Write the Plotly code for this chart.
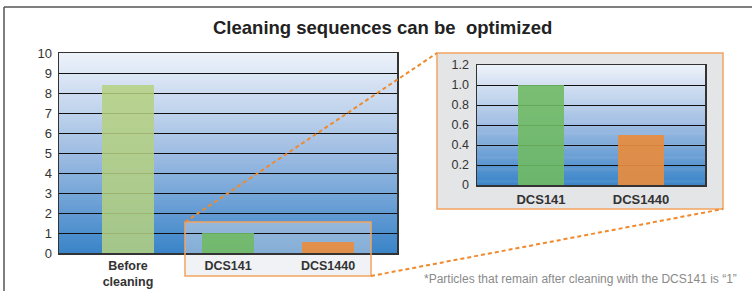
import plotly.graph_objects as go

W, H = 752, 291

# ---------------- data ----------------
main_categories = ["Before<br>cleaning", "DCS141", "DCS1440"]
main_values = [8.4, 1.0, 0.55]
main_colors = ["rgba(180,208,128,0.86)", "rgba(112,186,100,0.90)", "rgba(232,140,62,0.92)"]
main_yticks = list(range(0, 11))

inset_categories = ["DCS141", "DCS1440"]
inset_values = [1.0, 0.5]
inset_colors = ["rgba(112,186,100,0.90)", "rgba(232,140,62,0.92)"]
inset_yticks = [0, 0.2, 0.4, 0.6, 0.8, 1.0, 1.2]
inset_yticklabels = ["0", "0.2", "0.4", "0.6", "0.8", "1.0", "1.2"]

title_text = "Cleaning sequences can be  optimized"
footnote_text = "*Particles that remain after cleaning with the DCS141 is \u201c1\u201d"

FONT = "Liberation Sans, Arial, Helvetica, sans-serif"


def X(px):
    return px / W


def Y(py):
    return 1 - py / H


def hex2rgb(h):
    h = h.lstrip("#")
    return tuple(int(h[i:i + 2], 16) for i in (0, 2, 4))


def interp(stops, t):
    for (t0, c0), (t1, c1) in zip(stops[:-1], stops[1:]):
        if t0 <= t <= t1:
            f = (t - t0) / (t1 - t0) if t1 > t0 else 0
            a, b = hex2rgb(c0), hex2rgb(c1)
            return "rgb(%d,%d,%d)" % tuple(round(a[k] + (b[k] - a[k]) * f) for k in range(3))
    return stops[-1][1]


def gradient_bands(ax, stops, n=110):
    out = []
    for i in range(n):
        t = (i + 0.5) / n
        out.append(dict(type="rect", xref=ax[0] + " domain", yref=ax[1] + " domain",
                        x0=0, x1=1, y0=i / n, y1=min((i + 1) / n + 0.004, 1.0),
                        fillcolor=interp(stops, t), line=dict(width=0), layer="below"))
    return out


bg_stops = [(0.0, "#3a84c8"), (0.5, "#9fbde3"), (1.0, "#edf2fa")]

# ---------------- geometry (pixels) ----------------
main_l, main_r, main_t, main_b = 59, 397, 53, 253
ins_l, ins_r, ins_t, ins_b = 477, 705, 65, 185
box = dict(l=437, r=723, t=53, b=209)          # inset frame
zoom = dict(l=185, r=371, t=222, b=276)        # highlight rectangle in main chart

fig = go.Figure()

fig.add_trace(go.Bar(
    x=list(range(len(main_values))), y=main_values, width=0.52,
    marker=dict(color=main_colors, line=dict(width=0)),
    xaxis="x", yaxis="y", hoverinfo="skip", showlegend=False))

fig.add_trace(go.Bar(
    x=list(range(len(inset_values))), y=inset_values, width=0.46,
    marker=dict(color=inset_colors, line=dict(width=0)),
    xaxis="x2", yaxis="y2", hoverinfo="skip", showlegend=False))

shapes = []
# outer frame lines
shapes.append(dict(type="line", xref="paper", yref="paper", x0=X(4), x1=X(752), y0=Y(7), y1=Y(7),
                   line=dict(color="#555555", width=1.5), layer="above"))
shapes.append(dict(type="line", xref="paper", yref="paper", x0=X(4), x1=X(4), y0=Y(7), y1=Y(291),
                   line=dict(color="#555555", width=1.5), layer="above"))
# inset frame (below)
shapes.append(dict(type="rect", xref="paper", yref="paper", x0=X(box["l"]), x1=X(box["r"]),
                   y0=Y(box["b"]), y1=Y(box["t"]), fillcolor="#e4e5e7",
                   line=dict(color="#f2a462", width=1.5), layer="below"))
# gradient backgrounds
shapes += gradient_bands(("x", "y"), bg_stops)
shapes += gradient_bands(("x2", "y2"), bg_stops)
# highlight rectangle tint (domain of main axes)
mw, mh = main_r - main_l, main_b - main_t
shapes.append(dict(type="rect", xref="x domain", yref="y domain",
                   x0=(zoom["l"] - main_l) / mw, x1=(zoom["r"] - main_l) / mw,
                   y0=(main_b - zoom["b"]) / mh, y1=(main_b - zoom["t"]) / mh,
                   fillcolor="rgba(224,227,232,0.45)", line=dict(width=0), layer="below"))
# highlight rectangle border
shapes.append(dict(type="rect", xref="paper", yref="paper", x0=X(zoom["l"]), x1=X(zoom["r"]),
                   y0=Y(zoom["b"]), y1=Y(zoom["t"]), fillcolor="rgba(0,0,0,0)",
                   line=dict(color="#f2a462", width=1.5), layer="above"))
# dotted connector lines
dot = dict(color="#f08a2c", width=2, dash="4px,3px")
shapes.append(dict(type="line", xref="paper", yref="paper", x0=X(zoom["l"]), y0=Y(zoom["t"]),
                   x1=X(box["l"]), y1=Y(box["t"]), line=dot, layer="above"))
shapes.append(dict(type="line", xref="paper", yref="paper", x0=X(zoom["r"]), y0=Y(zoom["b"]),
                   x1=X(box["r"]), y1=Y(box["b"]), line=dot, layer="above"))

axis_common = dict(showline=True, mirror=True, linecolor="#333333", linewidth=1.5,
                   zeroline=False, ticks="", fixedrange=True, automargin=False)

fig.update_layout(
    template="none",
    width=W, height=H, autosize=False,
    margin=dict(l=0, r=0, t=0, b=0, pad=0, autoexpand=False),
    paper_bgcolor="white", plot_bgcolor="rgba(0,0,0,0)",
    font=dict(family=FONT, color="#333333", size=12),
    showlegend=False,
    bargap=0,
    xaxis=dict(domain=[X(main_l), X(main_r)], range=[-0.69, 2.69],
               tickvals=list(range(len(main_categories))), ticktext=main_categories,
               tickfont=dict(size=12.5, weight="bold", color="#333333"),
               showgrid=False, anchor="y", ticklabelstandoff=0, **axis_common),
    yaxis=dict(domain=[Y(main_b), Y(main_t)], range=[0, 10],
               tickvals=main_yticks, tickfont=dict(size=13, color="#333333"),
               showgrid=True, gridcolor="#111111", gridwidth=1, anchor="x",
               ticklabelstandoff=3, **axis_common),
    xaxis2=dict(domain=[X(ins_l), X(ins_r)], range=[-0.64, 1.64],
                tickvals=list(range(len(inset_categories))), ticktext=inset_categories,
                tickfont=dict(size=13, weight="bold", color="#333333"),
                showgrid=False, anchor="y2", ticklabelstandoff=2, **axis_common),
    yaxis2=dict(domain=[Y(ins_b), Y(ins_t)], range=[0, 1.2],
                tickvals=inset_yticks, ticktext=inset_yticklabels,
                tickfont=dict(size=12.5, color="#333333"),
                showgrid=True, gridcolor="#111111", gridwidth=1, anchor="x2",
                ticklabelstandoff=4, **axis_common),
    shapes=shapes,
    annotations=[
        dict(text="<b>" + title_text + "</b>", xref="paper", yref="paper", x=X(382), y=Y(28),
             xanchor="center", yanchor="middle", showarrow=False,
             font=dict(size=18.5, color="#222222", family=FONT)),
        dict(text=footnote_text, xref="paper", yref="paper", x=X(739), y=Y(279),
             xanchor="right", yanchor="middle", showarrow=False,
             font=dict(size=12, color="#8a8a8a", family=FONT)),
    ],
)

fig.write_html(
    "out.html",
    config={"displayModeBar": False, "staticPlot": True},
    post_script=(
        "document.documentElement.style.margin='0';"
        "document.documentElement.style.padding='0';"
        "document.documentElement.style.overflow='hidden';"
        "document.body.style.margin='0';"
        "document.body.style.padding='0';"
        "document.body.style.overflow='hidden';"
        "var gd=document.getElementById('{plot_id}');"
        "gd.style.position='fixed';gd.style.top='0px';gd.style.left='0px';"
    ),
)
